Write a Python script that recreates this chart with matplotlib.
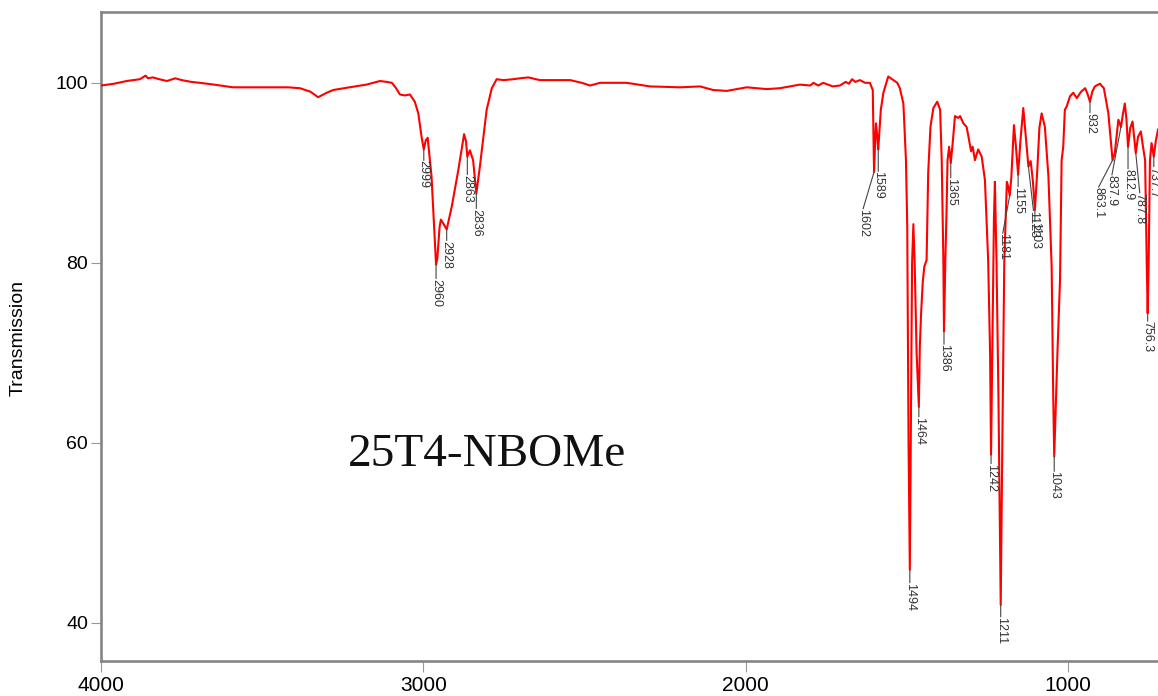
import numpy as np
import matplotlib
matplotlib.use("Agg")
import matplotlib.pyplot as plt

# ---- data (wavenumber cm-1, transmission %) ----
wavenumber = [
    4000, 3960, 3921, 3880, 3862, 3855, 3840, 3820, 3796, 3770, 3750, 3720, 3694,
    3650, 3591, 3500, 3420, 3383, 3350, 3327, 3300, 3280, 3230, 3177, 3135, 3114,
    3098, 3085, 3073, 3058, 3042, 3027, 3016, 3006, 2999, 2993, 2987, 2975, 2961,
    2957, 2950, 2946, 2939, 2928, 2912, 2892, 2874, 2868, 2864, 2856, 2846, 2836,
    2825, 2804, 2788, 2773, 2752, 2721, 2701, 2675, 2639, 2597, 2545, 2509, 2483,
    2452, 2370, 2297, 2204, 2142, 2101, 2059, 1997, 1935, 1894, 1832, 1800, 1790,
    1775, 1760, 1745, 1730, 1708, 1690, 1680, 1670, 1660, 1646, 1630, 1615, 1606,
    1602, 1598, 1596, 1592, 1589, 1581, 1573, 1558, 1542, 1530, 1522, 1511, 1503,
    1499, 1495, 1491, 1487, 1484, 1480, 1476, 1470, 1463, 1460, 1456, 1451, 1446,
    1439, 1434, 1427, 1418, 1406, 1397, 1392, 1387, 1385, 1381, 1377, 1374, 1369,
    1364, 1358, 1351, 1341, 1335, 1325, 1315, 1310, 1301, 1296, 1289, 1279, 1268,
    1258, 1248, 1242, 1239, 1235, 1230, 1227, 1222, 1216, 1209, 1204, 1198, 1190,
    1186, 1181, 1176, 1168, 1162, 1155, 1148, 1139, 1131, 1123, 1116, 1109, 1103,
    1096, 1089, 1082, 1072, 1061, 1051, 1046, 1043, 1040, 1033, 1025, 1020, 1015,
    1010, 1004, 994, 984, 973, 960, 947, 940, 932, 925, 917, 901, 889, 875, 862,
    855, 844, 836, 830, 824, 819, 814, 807, 800, 795, 790, 783, 774, 768, 761,
    756, 753, 750, 746, 741, 734, 728, 721,
]
transmission = [
    99.7, 99.9, 100.2, 100.4, 100.8, 100.5, 100.6, 100.4, 100.2, 100.5, 100.3, 100.1, 100.0,
    99.8, 99.5, 99.5, 99.5, 99.4, 99.0, 98.4, 98.9, 99.2, 99.5, 99.8, 100.2, 100.1,
    100.0, 99.4, 98.7, 98.6, 98.7, 97.9, 96.6, 94.0, 92.6, 93.6, 93.9, 89.6, 79.8,
    80.5, 84.0, 84.8, 84.4, 83.7, 86.3, 90.3, 94.3, 93.5, 91.8, 92.5, 91.4, 87.7,
    90.7, 97.0, 99.4, 100.4, 100.3, 100.4, 100.5, 100.6, 100.3, 100.3, 100.3, 100.0, 99.7,
    100.0, 100.0, 99.6, 99.5, 99.6, 99.2, 99.1, 99.5, 99.3, 99.4, 99.8, 99.7, 100.0,
    99.7, 100.0, 99.8, 99.6, 99.7, 100.1, 99.9, 100.4, 100.1, 100.3, 100.0, 100.0, 99.2,
    90.1, 94.0, 95.5, 94.0, 92.6, 97.0, 98.9, 100.7, 100.3, 100.0, 99.4, 97.7, 91.4,
    84.0, 60.0, 45.9, 65.0, 80.0, 84.3, 80.0, 70.0, 64.0, 70.7, 74.4, 77.8, 79.6,
    80.3, 90.0, 95.1, 97.2, 97.9, 97.0, 91.4, 80.3, 72.4, 80.0, 85.9, 91.4, 92.9,
    91.1, 93.3, 96.3, 96.1, 96.3, 95.5, 95.1, 94.2, 92.4, 92.9, 91.4, 92.6, 91.8,
    89.2, 80.3, 70.0, 58.7, 70.0, 85.0, 89.0, 80.0, 65.0, 42.0, 60.0, 80.0, 89.0,
    88.5, 87.5, 89.5, 95.3, 93.0, 89.8, 93.5, 97.2, 94.0, 90.7, 91.3, 89.0, 85.9,
    90.0, 95.0, 96.6, 95.1, 89.6, 79.6, 65.0, 58.5, 62.0, 70.0, 78.1, 91.4, 92.9,
    97.0, 97.4, 98.5, 98.9, 98.3, 99.0, 99.4, 98.8, 97.9, 99.0, 99.6, 99.9, 99.4, 96.6, 91.4,
    92.2, 95.9, 95.1, 96.5, 97.7, 96.0, 92.9, 95.0, 95.7, 94.0, 92.2, 94.0, 94.6, 93.0, 91.4,
    80.0, 74.4, 80.0, 91.4, 93.3, 91.8, 93.5, 94.8,
]

peak_labels = ["2999", "2960", "2928", "2863", "2836", "1602", "1589", "1494", "1464",
               "1386", "1365", "1242", "1211", "1181", "1155", "1123", "1103", "1043",
               "932", "863.1", "837.9", "812.9", "787.8", "756.3", "737.7"]
peak_wn = [2999, 2961, 2928, 2864, 2836, 1602, 1589, 1491, 1463,
           1385, 1364, 1239, 1209, 1181, 1155, 1123, 1103, 1043,
           932, 862, 836, 814, 790, 753, 734]

x_ticks = [4000, 3000, 2000, 1000]
y_ticks = [40, 60, 80, 100]

# label offsets from peak tip (pixels: dx right, dy down)
label_offsets = [(0, 11), (0, 14), (0, 11), (0, 18), (0, 15), (-11, 37), (0, 22), (0, 13), (0, 10),
                 (0, 13), (0, 15), (0, 9), (0, 12), (-7, 38), (0, 12), (5, 44), (0, 12), (0, 15),
                 (0, 11), (-14, 27), (-9, 48), (0, 22), (4, 40), (0, 8), (0, 10)]

W, H, DPI = 1158, 696, 100
fig = plt.figure(figsize=(W / DPI, H / DPI), dpi=DPI)
plt.rcParams['font.family'] = ['Liberation Sans', 'DejaVu Sans']

left, right, top, bottom = 100.7, 1158, 11.7, 660.7
ax = fig.add_axes([left / W, 1 - bottom / H, (right - left) / W, (bottom - top) / H])

ax.plot(wavenumber, transmission, color='#ff0000', lw=1.5, zorder=3)

ax.set_xlim(4001.5, 721)
ax.set_ylim(35.8, 107.9)
ax.set_xticks(x_ticks)
ax.set_yticks(y_ticks)
ax.tick_params(axis='x', length=8, width=0.8, color='#999999', pad=3, labelsize=15)
ax.tick_params(axis='y', length=7, width=0.8, color='#999999', pad=2, labelsize=14)

for s in ['left', 'top', 'bottom']:
    ax.spines[s].set_color('#858585')
    ax.spines[s].set_linewidth(1.9)
ax.spines['right'].set_visible(False)

wn_arr = np.array(wavenumber[::-1], dtype=float)
t_arr = np.array(transmission[::-1], dtype=float)
px2pt = 72.0 / DPI
for lab, wn, (dx, dy) in zip(peak_labels, peak_wn, label_offsets):
    ty = float(np.interp(wn, wn_arr, t_arr))
    ax.annotate(lab, xy=(wn, ty), xytext=(dx * px2pt, -dy * px2pt),
                textcoords='offset points', rotation=270, ha='center', va='top',
                fontsize=9, color='#333333', annotation_clip=False,
                arrowprops=dict(arrowstyle='-', color='#444444', lw=0.8,
                                shrinkA=0, shrinkB=0, patchA=None, relpos=(0.5, 1.0)),
                zorder=4)

fig.text(18 / W, 1 - 338 / H, 'Transmission', rotation=90, ha='center', va='center',
         fontsize=14, color='#000000')

fig.text(487.5 / W, 1 - 466 / H, '25T4-NBOMe', ha='center', va='baseline',
         fontsize=34, family=['Liberation Serif', 'DejaVu Serif'], color='#111111')

fig.savefig('out.png', dpi=DPI)
